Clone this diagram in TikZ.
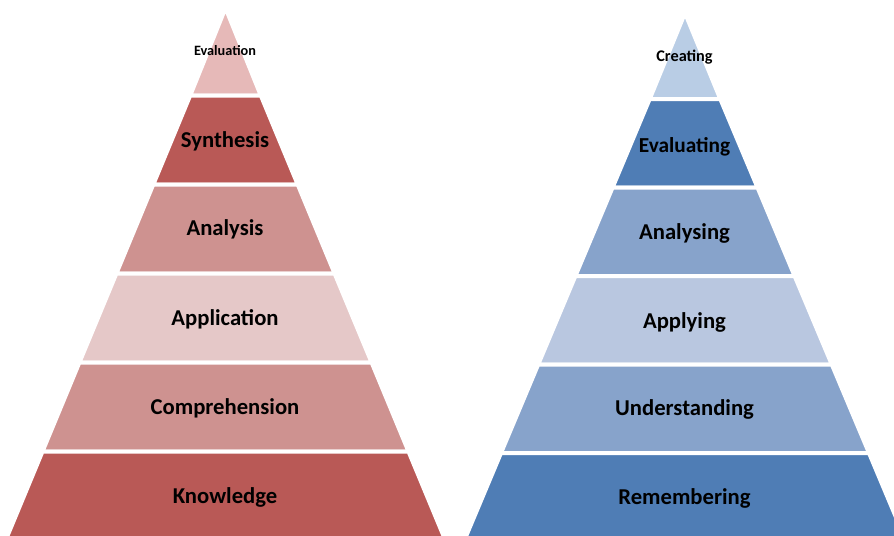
\documentclass[tikz,border=0pt]{standalone}
\usepackage{fontspec}
\setmainfont{Carlito}
\definecolor{redDark}{RGB}{185,89,86}
\definecolor{redMid}{RGB}{206,146,144}
\definecolor{redLight}{RGB}{229,200,200}
\definecolor{redTop}{RGB}{230,185,184}
\definecolor{blueDark}{RGB}{79,125,181}
\definecolor{blueMid}{RGB}{135,163,203}
\definecolor{blueLight}{RGB}{185,199,224}
\definecolor{blueTop}{RGB}{185,205,229}
\tikzset{
  layer/.style={draw=white,line width=3pt,line join=miter},
  lbl/.style={inner sep=0.75pt,font=\bfseries\fontsize{17}{20}\selectfont,text=black},
}

\begin{document}
\begin{tikzpicture}[x=0.75pt,y=0.75pt,yscale=-1,xscale=1]
\clip (0,0) rectangle (894,536);

%Shape: Triangle [left top]
\fill[redTop,layer] (225.5,8) -- (260.8,95.5) -- (190.2,95.5) -- cycle ;
%Shape: Trapezoid
\fill[redDark,layer] (190.2,95.5) -- (260.8,95.5) -- (297.7,184.5) -- (153.3,184.5) -- cycle ;
%Shape: Trapezoid
\fill[redMid,layer] (153.3,184.5) -- (297.7,184.5) -- (334.6,273.5) -- (116.4,273.5) -- cycle ;
%Shape: Trapezoid
\fill[redLight,layer] (116.4,273.5) -- (334.6,273.5) -- (371.6,362.5) -- (79.4,362.5) -- cycle ;
%Shape: Trapezoid
\fill[redMid,layer] (79.4,362.5) -- (371.6,362.5) -- (408.5,451.5) -- (42.5,451.5) -- cycle ;
%Shape: Trapezoid
\fill[redDark,layer] (42.5,451.5) -- (408.5,451.5) -- (447.3,545) -- (3.7,545) -- cycle ;

%Shape: Triangle [right top]
\fill[blueTop,layer] (685,13) -- (720.3,99) -- (649.7,99) -- cycle ;
%Shape: Trapezoid
\fill[blueDark,layer] (649.7,99) -- (720.3,99) -- (757.5,187.5) -- (612.6,187.5) -- cycle ;
%Shape: Trapezoid
\fill[blueMid,layer] (612.6,187.5) -- (757.5,187.5) -- (794.6,276) -- (575.4,276) -- cycle ;
%Shape: Trapezoid
\fill[blueLight,layer] (575.4,276) -- (794.6,276) -- (831.8,364.5) -- (538.2,364.5) -- cycle ;
%Shape: Trapezoid
\fill[blueMid,layer] (538.2,364.5) -- (831.8,364.5) -- (869.0,453) -- (501.0,453) -- cycle ;
%Shape: Trapezoid
\fill[blueDark,layer] (501.0,453) -- (869.0,453) -- (907.6,545) -- (462.4,545) -- cycle ;

% Text Node
\node[lbl,font=\bfseries\fontsize{10.7}{12}\selectfont] (evaluation) at (225,51) {Evaluation};
% Text Node
\node[lbl] (synthesis) at (225,141.5) {Synthesis};
% Text Node
\node[lbl] (analysis) at (225,229.5) {Analysis};
% Text Node
\node[lbl] (application) at (225,319.5) {Application};
% Text Node
\node[lbl] (comprehension) at (225,408.5) {Comprehension};
% Text Node
\node[lbl] (knowledge) at (225,497.5) {Knowledge};

% Text Node
\node[lbl,font=\bfseries\fontsize{12.2}{14}\selectfont] (creating) at (684.5,57) {Creating};
% Text Node
\node[lbl,font=\bfseries\fontsize{16}{19}\selectfont] (evaluating) at (684.5,146.5) {Evaluating};
% Text Node
\node[lbl] (analysing) at (684.5,233.5) {Analysing};
% Text Node
\node[lbl] (applying) at (684.5,322.5) {Applying};
% Text Node
\node[lbl] (understanding) at (684.5,409.5) {Understanding};
% Text Node
\node[lbl] (remembering) at (684.5,498.5) {Remembering};

\end{tikzpicture}
\end{document}
